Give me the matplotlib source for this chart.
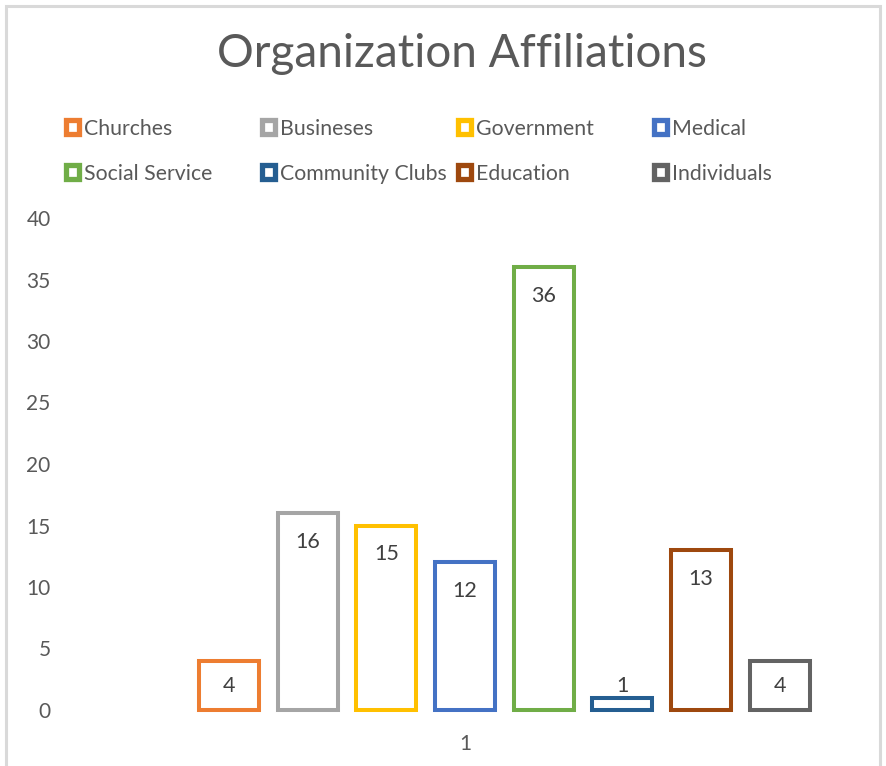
import matplotlib
matplotlib.use("Agg")
import matplotlib.pyplot as plt
from matplotlib.patches import Rectangle

categories = ["Churches", "Busineses", "Government", "Medical",
              "Social Service", "Community Clubs", "Education", "Individuals"]
values = [4, 16, 15, 12, 36, 1, 13, 4]
colors = ["#ED7D31", "#A5A5A5", "#FFC000", "#4472C4",
          "#70AD47", "#255E91", "#9E480E", "#636363"]
x_tick_labels = ["1"]
y_ticks = [0, 5, 10, 15, 20, 25, 30, 35, 40]

W, H = 886, 766
DPI = 100
FONT = "Lato"
TXT = "#595959"

fig = plt.figure(figsize=(W / DPI, H / DPI), dpi=DPI)
fig.patch.set_facecolor("white")

def fx(px):
    return px / W

def fy(py):
    return 1 - py / H

# outer chart border
fig.patches.append(Rectangle((fx(6), fy(790)), fx(880) - fx(6), fy(6) - fy(790),
                             transform=fig.transFigure, facecolor="none",
                             edgecolor="#D9D9D9", lw=2.2))

ax_l, ax_r, ax_t, ax_b = 70, 860, 218, 710
ax = fig.add_axes([fx(ax_l), fy(ax_b), fx(ax_r) - fx(ax_l), fy(ax_t) - fy(ax_b)])
ax.set_facecolor("none")

xs = list(range(len(values)))
bars = ax.bar(xs, values, width=0.76, facecolor="white", edgecolor=colors,
              linewidth=2.9, clip_on=False)

ax.set_xlim(-2.02, 8.02)
ax.set_ylim(0, 40)
ax.set_yticks(y_ticks)
ax.set_yticklabels([str(t) for t in y_ticks], fontfamily=FONT, fontsize=15, color=TXT)
ax.set_xticks([3.0])
ax.set_xticklabels(x_tick_labels, fontfamily=FONT, fontsize=15, color=TXT)
ax.tick_params(axis="y", length=0, pad=14)
ax.tick_params(axis="x", length=0, pad=17)
for s in ax.spines.values():
    s.set_visible(False)

# data labels (inside end)
for xi, v in zip(xs, values):
    ly = max(v - 2.35, 1.95)
    ax.text(xi, ly, str(v), ha="center", va="center", fontfamily=FONT,
            fontsize=15.5, color="#404040")

# title
fig.text(fx(462), fy(54), "Organization Affiliations", ha="center", va="center",
         fontfamily=FONT, fontsize=33, color=TXT)

# legend
col_x = [63, 259, 455, 651]
row_y = [127, 172]
for i, (name, c) in enumerate(zip(categories, colors)):
    cx = col_x[i % 4]
    cy = row_y[i // 4]
    fig.patches.append(Rectangle((fx(cx + 2.5), fy(cy + 6.5)), fx(13), fy(0) - fy(13),
                                 transform=fig.transFigure, facecolor="white",
                                 edgecolor=c, lw=3.8))
    fig.text(fx(cx + 21), fy(cy), name, ha="left", va="center_baseline",
             fontfamily=FONT, fontsize=15.3, color=TXT)

fig.savefig("out.png", dpi=DPI, facecolor="white")
